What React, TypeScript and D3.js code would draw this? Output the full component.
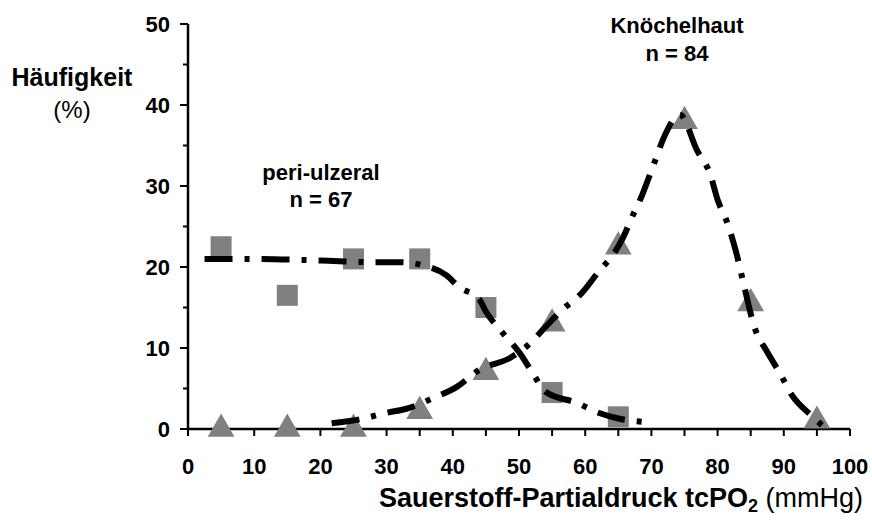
import React from "react";
import * as d3 from "d3";

const squareX = [5, 15, 25, 35, 45, 55, 65];
const squareY = [22.5, 16.5, 21, 21, 15, 4.5, 1.5];
const triX = [5, 15, 25, 35, 45, 55, 65, 75, 85, 95];
const triY = [0, 0, 0, 2.2, 7, 13, 22.5, 38, 15.5, 1];

const periFitX = [2.5, 10, 20, 28, 32, 35.5, 39, 41, 44, 45, 47.5, 50, 52, 54, 58.8, 62, 65, 68.6];
const periFitY = [21, 21, 20.8, 20.6, 20.6, 20.2, 19, 17.5, 16, 14.5, 11.9, 9.5, 7, 4.6, 3.2, 2, 1.3, 0.9];
const kFitX = [21.7, 26, 30, 33, 37, 40.6, 44, 48.7, 51.7, 54, 56.5, 59.5, 62.2, 64.2, 65.7, 67.2, 68.3, 70.5, 72, 74.3, 76.9, 78.9, 80, 81.4, 82.9, 83.8, 85.6, 87.5, 89.4, 91.2, 94.4, 96.4];
const kFitY = [0.7, 1.2, 2, 2.5, 3.8, 5.2, 7.3, 8.8, 10.6, 12.6, 14.7, 16.8, 19.6, 21.5, 23.6, 26.4, 28.3, 33, 36.2, 38.8, 34.4, 31.4, 28.3, 25.6, 21.5, 18.4, 12.5, 9.5, 6.9, 4.2, 1.5, 0];

const xTicks = [0, 10, 20, 30, 40, 50, 60, 70, 80, 90, 100];
const yTicks = [0, 10, 20, 30, 40, 50];

export default function App() {
  const W = 872, H = 526;
  const x = d3.scaleLinear().domain([0, 100]).range([188, 850]);
  const y = d3.scaleLinear().domain([0, 50]).range([429, 24]);
  const line = d3
    .line<[number, number]>()
    .x((d) => x(d[0]))
    .y((d) => y(d[1]))
    .curve(d3.curveMonotoneX);
  const periPts = periFitX.map((v, i) => [v, periFitY[i]] as [number, number]);
  const kPts = kFitX.map((v, i) => [v, kFitY[i]] as [number, number]);
  const font = "'Liberation Sans', Arial, sans-serif";
  const minorX = d3.range(0, 101, 5);
  const minorY = d3.range(0, 51, 5);
  const tri = d3.symbol().type(d3.symbolTriangle).size(310)();
  return (
    <svg width={W} height={H} style={{ position: "absolute", left: 0, top: 0 }} fontFamily={font}>
      <rect width={W} height={H} fill="#fff" />
      {/* axes */}
      <line x1={x(0)} x2={x(0)} y1={y(50)} y2={y(0)} stroke="#000" strokeWidth={2.5} />
      <line x1={x(0)} x2={x(100)} y1={y(0)} y2={y(0)} stroke="#000" strokeWidth={2.5} />
      {minorY.map((v) => (
        <line key={"yt" + v} x1={x(0) - (v % 10 === 0 ? 8 : 5)} x2={x(0)} y1={y(v)} y2={y(v)} stroke="#000" strokeWidth={2} />
      ))}
      {minorX.map((v) => (
        <line key={"xt" + v} x1={x(v)} x2={x(v)} y1={y(0)} y2={y(0) + 7} stroke="#000" strokeWidth={2} />
      ))}
      {yTicks.map((v) => (
        <text key={"yl" + v} x={x(0) - 18} y={y(v) + 8} textAnchor="end" fontSize={22} fontWeight="bold">{v}</text>
      ))}
      {xTicks.map((v) => (
        <text key={"xl" + v} x={x(v)} y={474} textAnchor="middle" fontSize={22} fontWeight="bold">{v}</text>
      ))}
      {/* markers */}
      {squareX.map((v, i) => (
        <rect key={"sq" + i} x={x(v) - 10.5} y={y(squareY[i]) - 10.5} width={21} height={21} fill="#808080" />
      ))}
      {triX.map((v, i) => (
        <path key={"tr" + i} d={tri as string} transform={`translate(${x(v)},${y(triY[i])})`} fill="#808080" />
      ))}
      {/* fitted lines */}
      <path d={line(periPts) as string} fill="none" stroke="#000" strokeWidth={6} strokeDasharray="28 12 5 12" />
      <path d={line(kPts) as string} fill="none" stroke="#000" strokeWidth={6} strokeDasharray="28 12 5 12" />
      {/* labels */}
      <text x={72} y={86} textAnchor="middle" fontSize={25} fontWeight="bold">Häufigkeit</text>
      <text x={72} y={118} textAnchor="middle" fontSize={24}>(%)</text>
      <text x={321} y={180} textAnchor="middle" fontSize={22} fontWeight="bold">peri-ulzeral</text>
      <text x={321} y={207} textAnchor="middle" fontSize={22} fontWeight="bold">n = 67</text>
      <text x={677} y={33} textAnchor="middle" fontSize={22} fontWeight="bold">Knöchelhaut</text>
      <text x={677} y={61} textAnchor="middle" fontSize={22} fontWeight="bold">n = 84</text>
      <text x={863} y={507} textAnchor="end" fontSize={27}>
        <tspan fontWeight="bold">Sauerstoff-Partialdruck tcPO</tspan>
        <tspan fontWeight="bold" fontSize={18} dy={5}>2</tspan>
        <tspan dy={-5}> (mmHg)</tspan>
      </text>
    </svg>
  );
}
